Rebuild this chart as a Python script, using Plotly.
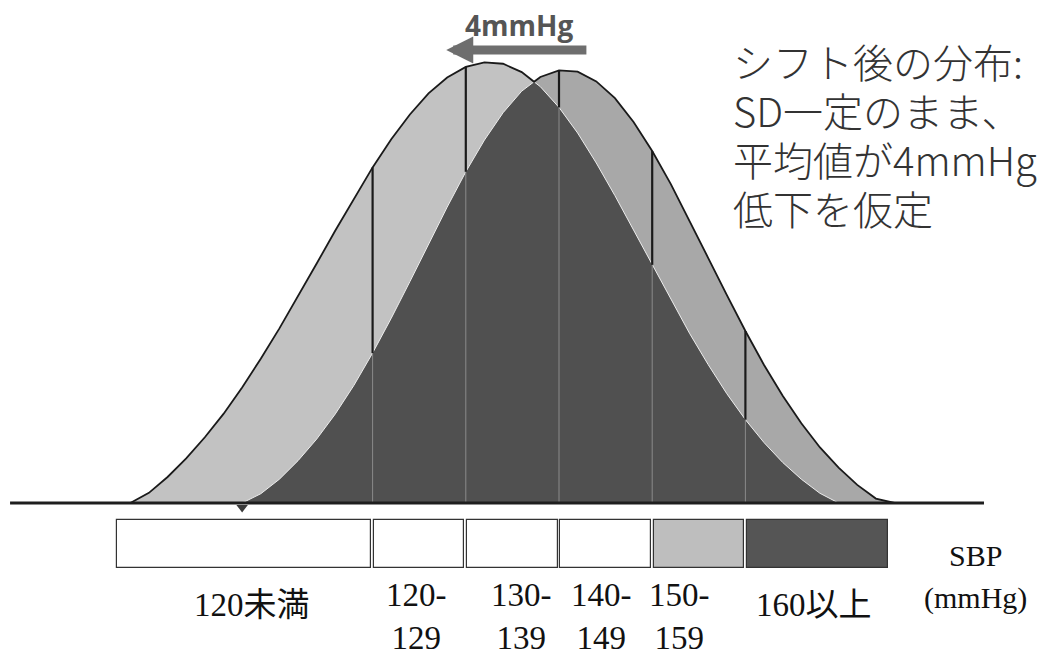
import plotly.graph_objects as go

# ---- data ----
categories = ["120未満", "120-<br>129", "130-<br>139", "140-<br>149", "150-<br>159", "160以上"]
box_edges = [92.4, 120, 130, 140, 150, 160, 175.5]          # SBP (mmHg) span of each category box
box_colors = ["white", "white", "white", "white", "#bebebe", "#555555"]
boundaries = [120, 130, 140, 150, 160]

x_grid = [94, 96, 98, 100, 102, 104, 106, 108, 110, 112, 114,
          116, 118, 120, 122, 124, 126, 128, 130, 132, 134, 136,
          138, 140, 142, 144, 146, 148, 150, 152, 154, 156, 158,
          160, 162, 164, 166, 168, 170, 172, 174, 176]
# distribution after the shift (mean lowered)
shifted = [0.0, 2.3, 5.9, 10.1, 14.9, 20.2, 26.2, 32.7, 39.6, 46.8, 54.3,
           61.8, 69.1, 76.1, 82.5, 88.1, 92.9, 96.5, 98.9, 99.9, 99.6, 97.7,
           94.4, 89.7, 83.9, 77.1, 69.7, 61.9, 54.0, 46.1, 38.5, 31.4, 24.8,
           18.9, 13.7, 9.2, 5.4, 2.2, 0.0, 0.0, 0.0, 0.0]
# original distribution
original = [0.0, 0.0, 0.0, 0.0, 0.0, 0.0, 0.0, 2.1, 5.4, 9.6, 14.5,
            20.2, 26.7, 34.0, 41.9, 50.2, 58.7, 67.1, 75.1, 82.3, 88.5, 93.4,
            96.6, 98.1, 97.8, 95.6, 91.8, 86.4, 79.8, 72.3, 64.1, 55.6, 47.2,
            39.0, 31.3, 24.3, 18.1, 12.6, 8.0, 4.1, 1.0, 0.0]

note_lines = ["シフト後の分布:", "SD一定のまま、", "平均値が4mmHg", "低下を仮定"]
shift_label = "4mmHg"

# ---- derived: overlap (min) and envelope (max) with the crossing point ----
xs, mins, maxs = [], [], []
n = len(x_grid)
for i in range(n):
    xs.append(x_grid[i]); mins.append(min(shifted[i], original[i])); maxs.append(max(shifted[i], original[i]))
    if i < n - 1:
        d0 = shifted[i] - original[i]; d1 = shifted[i + 1] - original[i + 1]
        if d0 * d1 < 0:
            t = d0 / (d0 - d1)
            xc = x_grid[i] + t * (x_grid[i + 1] - x_grid[i])
            yc = shifted[i] + t * (shifted[i + 1] - shifted[i])
            xs.append(xc); mins.append(yc); maxs.append(yc)

fig = go.Figure()
fig.add_trace(go.Scatter(x=x_grid, y=shifted, mode="lines", fill="tozeroy",
                         fillcolor="#c2c2c2", line=dict(width=0), hoverinfo="skip"))
fig.add_trace(go.Scatter(x=x_grid, y=original, mode="lines", fill="tozeroy",
                         fillcolor="#a8a8a8", line=dict(width=0), hoverinfo="skip"))
fig.add_trace(go.Scatter(x=xs, y=mins, mode="lines", fill="tozeroy",
                         fillcolor="#505050", line=dict(color="#eeeeee", width=1), hoverinfo="skip"))
fig.add_trace(go.Scatter(x=xs, y=maxs, mode="lines",
                         line=dict(color="#1a1a1a", width=1.8), hoverinfo="skip"))

up_x, up_y, lo_x, lo_y = [], [], [], []
for b in boundaries:
    i = x_grid.index(b)
    lo = min(shifted[i], original[i]); hi = max(shifted[i], original[i])
    up_x += [b, b, None]; up_y += [lo, hi, None]
    lo_x += [b, b, None]; lo_y += [0, lo, None]
fig.add_trace(go.Scatter(x=lo_x, y=lo_y, mode="lines", line=dict(color="#8a8a8a", width=1), hoverinfo="skip"))
fig.add_trace(go.Scatter(x=up_x, y=up_y, mode="lines", line=dict(color="#1a1a1a", width=2.2), hoverinfo="skip"))

# baseline
fig.add_trace(go.Scatter(x=[81.1, 185.6], y=[0, 0], mode="lines",
                         line=dict(color="#1e1e1e", width=3), hoverinfo="skip"))
first_r = next(i for i, v in enumerate(original) if v > 0) - 1
fig.add_trace(go.Scatter(x=[x_grid[first_r]], y=[-1.0], mode="markers", hoverinfo="skip",
                         marker=dict(symbol="triangle-down", size=10, color="#3a3a3a")))

# category boxes
box_bottom, box_top = -14.74, -3.85
centers = [(box_edges[i] + box_edges[i + 1]) / 2 for i in range(len(categories))]
widths = [box_edges[i + 1] - box_edges[i] - 0.3 for i in range(len(categories))]
fig.add_trace(go.Bar(x=centers, y=[box_top - box_bottom] * len(categories), base=box_bottom,
                     width=widths, marker=dict(color=box_colors, line=dict(color="#333333", width=1.2)),
                     hoverinfo="skip"))

label_shift = [8, -3, 9, -4, -19, -4]
for c, lab, sh in zip(centers, categories, label_shift):
    two = "<br>" in lab
    fig.add_annotation(x=c, y=-25.7 if two else -23.1, text=lab, showarrow=False,
                       xshift=sh, xanchor="center", yanchor="middle",
                       font=dict(family="Liberation Serif, Noto Sans CJK JP", size=33, color="#111111"))
fig.add_annotation(x=184.7, y=-11.8, text="SBP", showarrow=False,
                   font=dict(family="Liberation Serif", size=30, color="#111111"))
fig.add_annotation(x=184.7, y=-21.5, text="(mmHg)", showarrow=False,
                   font=dict(family="Liberation Serif", size=30, color="#111111"))

# shift arrow + label
fig.add_annotation(x=127.9, y=102.7, ax=143.1, ay=102.7, axref="x", ayref="y", xref="x", yref="y",
                   text="", showarrow=True, arrowhead=2, arrowsize=0.6, arrowwidth=9,
                   arrowcolor="#6e6e6e", standoff=0)
fig.add_annotation(x=135.7, y=108.3, text="<b>" + shift_label + "</b>", showarrow=False,
                   borderpad=0,
                   font=dict(family="Open Sans", size=28, color="#555555"))

for t, yp in zip(note_lines, [53, 102, 151, 200]):
    fig.add_annotation(xref="paper", yref="paper", x=0.6972, y=1 - yp / 649, text=t,
                       showarrow=False, xanchor="left", yanchor="middle",
                       font=dict(family="Noto Sans CJK JP", size=40, color="#333333", weight=300))

fig.update_layout(width=1037, height=649, margin=dict(l=0, r=0, t=0, b=0),
                  paper_bgcolor="white", plot_bgcolor="white", showlegend=False,
                  xaxis=dict(range=[80.879, 192.146], visible=False, fixedrange=True),
                  yaxis=dict(range=[-34.92, 112.245], visible=False, fixedrange=True),
                  bargap=0)
fig.write_html("out.html")
